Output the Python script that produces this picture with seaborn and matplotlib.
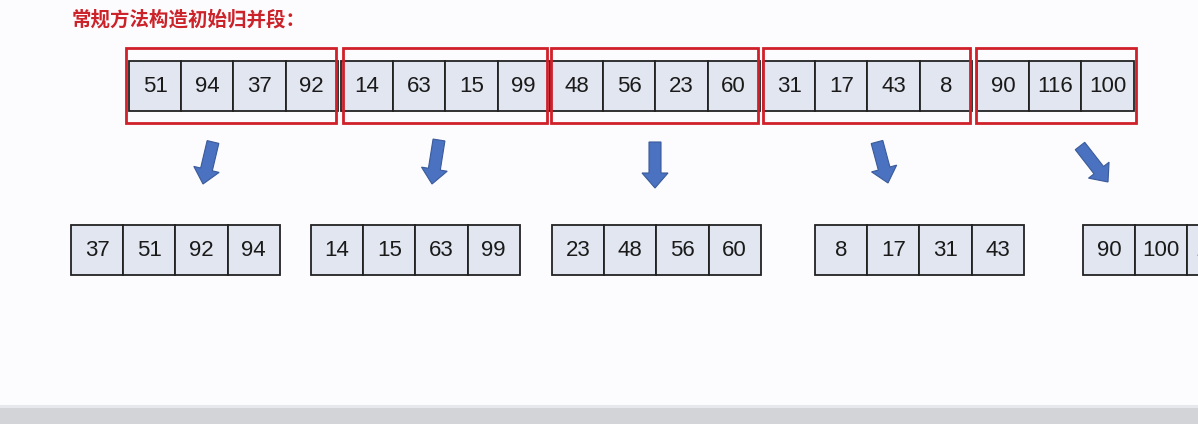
import matplotlib
matplotlib.use("Agg")
import matplotlib.pyplot as plt
import seaborn as sns
from matplotlib.patches import Rectangle, FancyArrow

sns.set_theme(style="white")
plt.rcParams['font.family'] = ['Noto Sans CJK SC', 'DejaVu Sans']

title = "常规方法构造初始归并段："
top_groups = [[51, 94, 37, 92], [14, 63, 15, 99], [48, 56, 23, 60], [31, 17, 43, 8], [90, 116, 100]]
bottom_groups = [[37, 51, 92, 94], [14, 15, 63, 99], [23, 48, 56, 60], [8, 17, 31, 43], [90, 100, 116]]

top_x = [129, 341, 551, 763, 977]
bottom_x = [71, 311, 552, 815, 1083]
red_boxes = [(126, 336), (343, 547), (551, 758), (763, 970), (976, 1136)]
arrows = [((213, 142), (203, 184)), ((439, 140), (432, 184)), ((655, 142), (655, 188)),
          ((877, 142), (888, 183)), ((1080, 146), (1108, 182))]
cell_w = 52.2

fig = plt.figure(figsize=(11.98, 4.24), dpi=100)
fig.patch.set_facecolor("#fcfbfd")
ax = fig.add_axes([0, 0, 1, 1])
ax.set_xlim(0, 1198)
ax.set_ylim(424, 0)
ax.axis("off")

def draw_row(groups, xs, y0, h):
    for vals, x0 in zip(groups, xs):
        for i, v in enumerate(vals):
            x = x0 + i * cell_w
            ax.add_patch(Rectangle((x, y0), cell_w, h, facecolor="#e2e6f0",
                                   edgecolor="#222222", lw=1.3))
            ax.text(x + cell_w / 2, y0 + h / 2 + 1, str(v), ha="center", va="center",
                    fontsize=16, color="#1a1a1a", family=["Liberation Sans", "DejaVu Sans"])

draw_row(top_groups, top_x, 61, 50)
draw_row(bottom_groups, bottom_x, 225, 50)

for x0, x1 in red_boxes:
    ax.add_patch(Rectangle((x0, 48), x1 - x0, 75, fill=False, edgecolor="#d0202a", lw=2))

for (xa, ya), (xb, yb) in arrows:
    ax.add_patch(FancyArrow(xa, ya, xb - xa, yb - ya, width=12, head_width=26,
                            head_length=15, length_includes_head=True,
                            facecolor="#4a72c0", edgecolor="#3a5a9a", lw=0.8))

ax.text(72, 20, title, ha="left", va="center", fontsize=14, fontweight="bold", color="#cc2229")

# bottom window strip
ax.add_patch(Rectangle((0, 405), 1198, 19, facecolor="#d3d4d8", edgecolor="none"))
ax.add_patch(Rectangle((0, 405), 1198, 3, facecolor="#e6e8ee", edgecolor="none"))

fig.savefig("out.png", dpi=100, facecolor=fig.get_facecolor())
